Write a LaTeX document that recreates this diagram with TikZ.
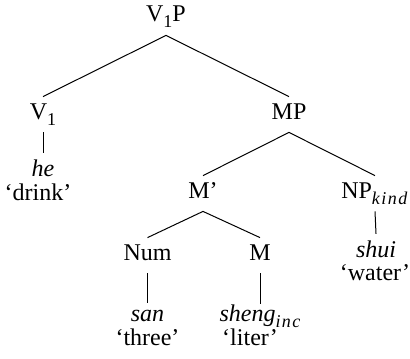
\documentclass[tikz,border=0pt]{standalone}
\usepackage{fontspec}
\setmainfont{Liberation Serif}
\usetikzlibrary{positioning}

% Subindices en cursiva espaciada
\newcommand{\lsub}[1]{\raisebox{-0.25em}{\fontsize{9}{9}\selectfont\addfontfeatures{LetterSpace=8}#1}}

\begin{document}
\begin{tikzpicture}[x=0.5pt, y=-0.5pt]
    % Marco del dibujo
    \useasboundingbox (0,0) rectangle (410,358);

    % Estilos del arbol
    \tikzset{
      cat/.style={
        anchor=base, font=\fontsize{12}{14}\selectfont,
        text height=8pt, text depth=3.5pt, inner xsep=1pt, inner ysep=3pt
      },
      word/.style={
        anchor=base, font=\fontsize{12}{14}\selectfont\itshape,
        inner xsep=1pt, inner ysep=3pt
      },
      gloss/.style={anchor=base, font=\fontsize{12}{14}\selectfont, inner sep=0pt},
      branch/.style={line width=0.5pt}
    }

    % Categorias
    \node[cat] (v1p) at (166,22) {V\lsub{1}P};
    \node[cat] (v1) at (43,119) {V\lsub{1}};
    \node[cat] (mp) at (289,119) {MP};
    \node[cat] (mbar) at (203,198) {M'};
    \node[cat] (npkind) at (375,198) {NP\lsub{\textit{kind}}};
    \node[cat] (num) at (147.5,260) {Num};
    \node[cat] (m) at (260,260) {M};

    % Palabras y glosas
    \node[word] (he) at (43,176) {he};
    \node[gloss] (drink) at (38,200) {`drink'};
    \node[word] (shui) at (376,257) {shui};
    \node[gloss] (water) at (375,280) {`water'};
    \node[word] (san) at (147.5,321) {san};
    \node[gloss] (three) at (147.5,345) {`three'};
    \node[word, text height=5.4pt] (sheng) at (260,321) {sheng\lsub{inc}};
    \node[gloss] (liter) at (250,345) {`liter'};

    % Ramas
    \draw[branch] (v1p.south) -- (v1.north);
    \draw[branch] (v1p.south) -- (mp.north);
    \draw[branch] (v1.south) -- (he.north);
    \draw[branch] (mp.south) -- (mbar.north);
    \draw[branch] (mp.south) -- (npkind.north);
    \draw[branch] (npkind.south) -- (shui.north);
    \draw[branch] (mbar.south) -- (num.north);
    \draw[branch] (mbar.south) -- (m.north);
    \draw[branch] (num.south) -- (san.north);
    \draw[branch] (m.south) -- (sheng.north);
\end{tikzpicture}
\end{document}
